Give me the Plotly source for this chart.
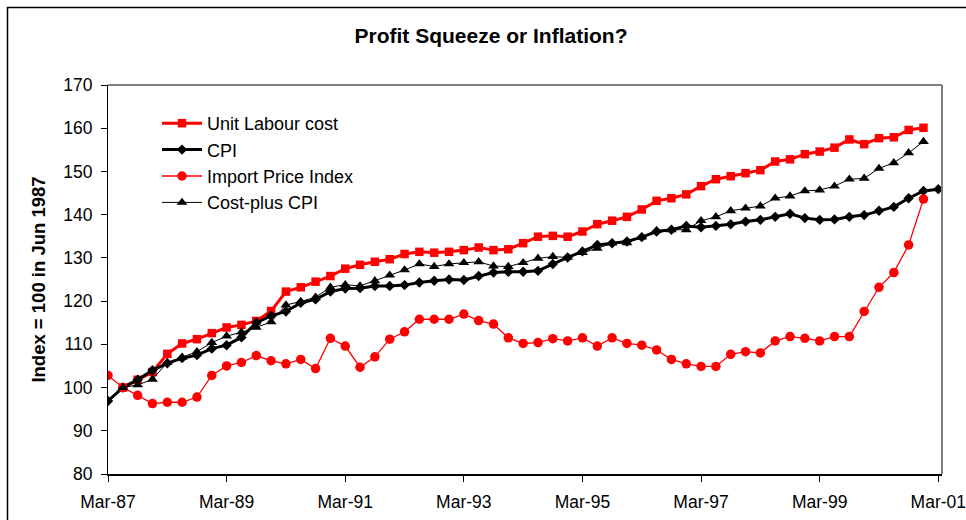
import plotly.graph_objects as go

quarters = [
    "Mar-87", "Jun-87", "Sep-87", "Dec-87", "Mar-88", "Jun-88", "Sep-88", "Dec-88",
    "Mar-89", "Jun-89", "Sep-89", "Dec-89", "Mar-90", "Jun-90", "Sep-90", "Dec-90",
    "Mar-91", "Jun-91", "Sep-91", "Dec-91", "Mar-92", "Jun-92", "Sep-92", "Dec-92",
    "Mar-93", "Jun-93", "Sep-93", "Dec-93", "Mar-94", "Jun-94", "Sep-94", "Dec-94",
    "Mar-95", "Jun-95", "Sep-95", "Dec-95", "Mar-96", "Jun-96", "Sep-96", "Dec-96",
    "Mar-97", "Jun-97", "Sep-97", "Dec-97", "Mar-98", "Jun-98", "Sep-98", "Dec-98",
    "Mar-99", "Jun-99", "Sep-99", "Dec-99", "Mar-00", "Jun-00", "Sep-00", "Dec-00",
    "Mar-01",
]

unit_labour_cost = [
    None, 100.0, 101.8, 103.6, 107.8, 110.2, 111.2, 112.6,
    113.9, 114.5, 115.4, 117.7, 122.2, 123.2, 124.5, 125.8,
    127.5, 128.4, 129.1, 129.7, 130.9, 131.4, 131.2, 131.4,
    131.8, 132.4, 131.8, 132.0, 133.4, 134.9, 135.1, 134.9,
    136.1, 137.8, 138.6, 139.5, 141.2, 143.2, 143.8, 144.7,
    146.6, 148.2, 148.9, 149.6, 150.3, 152.3, 152.8, 154.0,
    154.6, 155.5, 157.4, 156.3, 157.7, 157.9, 159.6, 160.1,
    None,
]

cpi = [
    96.9, 100.0, 101.8, 104.0, 105.6, 106.8, 107.5, 109.0,
    109.8, 111.6, 115.0, 116.6, 117.6, 119.6, 120.4, 122.2,
    122.9, 123.0, 123.5, 123.5, 123.7, 124.3, 124.7, 125.0,
    124.9, 125.8, 126.6, 126.8, 126.8, 127.0, 128.6, 130.1,
    131.5, 133.0, 133.4, 133.8, 134.8, 136.1, 136.5, 137.4,
    137.1, 137.4, 137.8, 138.4, 138.8, 139.5, 140.2, 139.2,
    138.8, 138.9, 139.5, 139.9, 140.9, 141.8, 143.8, 145.5,
    145.9,
]

import_price_index = [
    102.8, 100.0, 98.2, 96.3, 96.6, 96.6, 97.8, 102.8,
    105.0, 105.8, 107.4, 106.2, 105.5, 106.5, 104.4, 111.4,
    109.6, 104.7, 107.1, 111.2, 112.9, 115.8, 115.8, 115.8,
    117.0, 115.5, 114.7, 111.5, 110.2, 110.4, 111.3, 110.8,
    111.5, 109.6, 111.5, 110.2, 109.8, 108.7, 106.5, 105.5,
    104.9, 104.9, 107.7, 108.3, 108.0, 110.8, 111.8, 111.4,
    110.8, 111.8, 111.8, 117.6, 123.2, 126.6, 133.0, 143.6,
    None,
]

cost_plus_cpi = [
    None, 100.0, 100.6, 101.9, 105.8, 107.0, 108.3, 110.4,
    111.9, 112.8, 113.9, 115.2, 119.1, 119.9, 120.9, 123.2,
    123.8, 123.5, 124.7, 126.0, 127.2, 128.6, 128.0, 128.6,
    128.9, 129.1, 128.1, 128.0, 128.9, 129.9, 130.3, 130.1,
    131.2, 132.2, 133.4, 133.5, 134.8, 136.3, 136.5, 136.5,
    138.6, 139.5, 140.9, 141.5, 142.0, 143.8, 144.3, 145.5,
    145.7, 146.6, 148.2, 148.4, 150.7, 152.0, 154.3, 156.9,
    None,
]

x_tick_labels = ["Mar-87", "Mar-89", "Mar-91", "Mar-93", "Mar-95", "Mar-97", "Mar-99", "Mar-01"]

FONT = "Arial, Liberation Sans, sans-serif"

fig = go.Figure()
fig.add_trace(go.Scatter(
    x=quarters, y=unit_labour_cost, name="Unit Labour cost", mode="lines+markers",
    line=dict(color="#FF0000", width=3), marker=dict(symbol="square", size=8.5, color="#FF0000"),
))
fig.add_trace(go.Scatter(
    x=quarters, y=cpi, name="CPI", mode="lines+markers",
    line=dict(color="#000000", width=3), marker=dict(symbol="diamond", size=8, color="#000000"),
))
fig.add_trace(go.Scatter(
    x=quarters, y=import_price_index, name="Import Price Index", mode="lines+markers",
    line=dict(color="#FF0000", width=1.3), marker=dict(symbol="circle", size=9.5, color="#FF0000"),
))
fig.add_trace(go.Scatter(
    x=quarters, y=cost_plus_cpi, name="Cost-plus CPI", mode="lines+markers",
    line=dict(color="#000000", width=1), marker=dict(symbol="triangle-up", size=9.5, color="#000000"),
))

L, R, T, B = 108, 24, 85, 46
W, H = 966, 520
pw = W - L - R
ph = H - T - B

fig.update_layout(
    width=W, height=H,
    margin=dict(l=L, r=R, t=T, b=B, autoexpand=False),
    paper_bgcolor="white", plot_bgcolor="white",
    font=dict(family=FONT, color="black", size=17),
    title=dict(text="<b>Profit Squeeze or Inflation?</b>", x=491 / W, xanchor="center",
               y=1 - 36 / H, yanchor="middle", font=dict(size=21, family=FONT)),
    showlegend=True,
    legend=dict(x=(157 - L) / pw, y=1 - (105 - T) / ph, xanchor="left", yanchor="top",
                font=dict(size=18, family=FONT), bgcolor="rgba(0,0,0,0)",
                itemwidth=40, tracegroupgap=0),
    xaxis=dict(type="category", range=[0, 56.25], tickmode="array", tickvals=x_tick_labels,
               ticktext=x_tick_labels, ticks="outside", ticklen=6, tickcolor="black",
               showline=True, linecolor="black", linewidth=2, showgrid=False, zeroline=False,
               tickfont=dict(size=17.5), tickangle=0, automargin=False, ticklabelstandoff=5),
    yaxis=dict(range=[80, 170], dtick=10, tick0=80, ticks="outside", ticklen=6, tickcolor="black",
               showline=True, linecolor="black", linewidth=1, showgrid=False, zeroline=False,
               tickfont=dict(size=17.5), automargin=False, ticklabelstandoff=5,
               title=dict(text="<b>Index = 100 in Jun 1987</b>", font=dict(size=18.5), standoff=12)),
    shapes=[
        dict(type="line", xref="paper", yref="paper", x0=0, x1=1, y0=1, y1=1,
             line=dict(color="#808080", width=2)),
        dict(type="line", xref="paper", yref="paper", x0=1, x1=1, y0=0, y1=1,
             line=dict(color="#808080", width=2)),
        dict(type="rect", xref="paper", yref="paper",
             x0=(7.5 - L) / pw, x1=(W + 20 - L) / pw,
             y0=-(H + 20 - (H - B)) / ph, y1=1 + (T - 7.5) / ph,
             line=dict(color="black", width=1.5)),
    ],
)

fig.write_html(
    "out.html",
    config={"displayModeBar": False},
    post_script="document.body.style.margin='0';document.body.style.overflow='hidden';",
)
